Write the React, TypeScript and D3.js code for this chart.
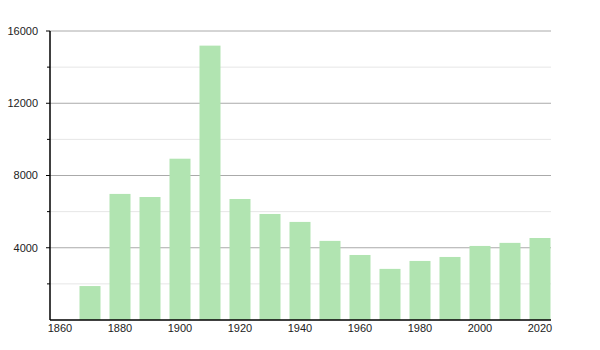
import React from "react";
import * as d3 from "d3";

const years = [1870, 1880, 1890, 1900, 1910, 1920, 1930, 1940, 1950, 1960, 1970, 1980, 1990, 2000, 2010, 2020];
const population = [1880, 6980, 6810, 8930, 15190, 6700, 5870, 5430, 4380, 3600, 2830, 3270, 3490, 4100, 4270, 4540];
const yTicks = [4000, 8000, 12000, 16000];
const yMinorTicks = [2000, 6000, 10000, 14000];
const xTicks = [1860, 1880, 1900, 1920, 1940, 1960, 1980, 2000, 2020];

export default function App() {
  const W = 600, H = 350;
  const left = 50, right = 551, top = 31, bottom = 320;
  const x = d3.scaleLinear().domain([1856.667, 2023.667]).range([left, right]);
  const y = d3.scaleLinear().domain([0, 16000]).range([bottom, top]);
  const barW = x(1867) - x(1860);
  const font = "'Liberation Sans', Arial, sans-serif";
  return (
    <svg width={W} height={H} style={{ position: "absolute", left: 0, top: 0 }}>
      <rect width={W} height={H} fill="#fff" />
      {yMinorTicks.map((t) => (
        <line key={"m" + t} x1={left} x2={right} y1={y(t)} y2={y(t)} stroke="#e6e6e6" strokeWidth={1} />
      ))}
      {yTicks.map((t) => (
        <line key={"g" + t} x1={left} x2={right} y1={y(t)} y2={y(t)} stroke="#aaaaaa" strokeWidth={1} />
      ))}
      {years.map((yr, i) => (
        <rect key={yr} x={x(yr) - barW / 2} y={y(population[i])} width={barW} height={bottom - y(population[i])} fill="#b1e4b1" />
      ))}
      <line x1={left} x2={left} y1={top} y2={bottom} stroke="#000" strokeWidth={1.5} />
      <line x1={left} x2={right} y1={bottom} y2={bottom} stroke="#000" strokeWidth={1.5} />
      {yTicks.map((t) => (
        <g key={"t" + t}>
          <line x1={left - 4} x2={left} y1={y(t)} y2={y(t)} stroke="#000" />
          <text x={left - 12} y={y(t)} dy="0.35em" textAnchor="end" fontSize={11} fontFamily={font} fill="#222">{t}</text>
        </g>
      ))}
      {yMinorTicks.map((t) => (
        <line key={"mt" + t} x1={left - 3} x2={left} y1={y(t)} y2={y(t)} stroke="#000" />
      ))}
      {xTicks.map((t) => (
        <text key={"x" + t} x={x(t)} y={bottom + 12} textAnchor="middle" fontSize={11} fontFamily={font} fill="#222">{t}</text>
      ))}
    </svg>
  );
}
